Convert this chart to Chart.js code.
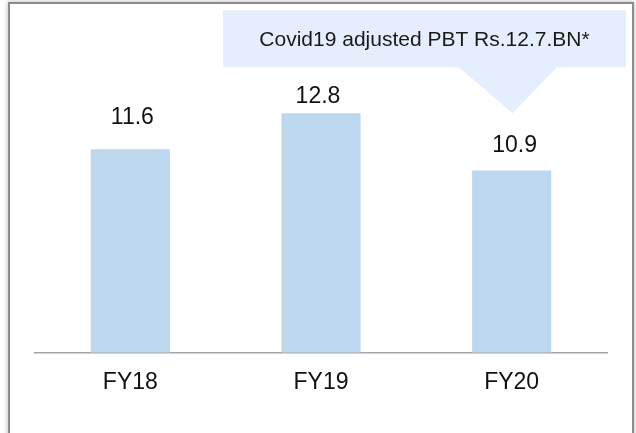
<!DOCTYPE html>
<html>
<head>
<meta charset="utf-8">
<script src="https://cdn.jsdelivr.net/npm/chart.js@4"></script>
<style>
  body { margin: 0; background: #fff; }
  #wrap { position: relative; width: 636px; height: 433px; overflow: hidden; }
  #frame {
    position: absolute; left: 8px; top: 2px; width: 622px; height: 500px;
    border: 2px solid #8c8c8c; box-shadow: 0 0 5px rgba(0,0,0,0.3);
  }
  canvas { position: absolute; left: 0; top: 0; }
</style>
</head>
<body>
<div id="wrap">
  <div id="frame"></div>
  <canvas id="myChart" width="636" height="433"></canvas>
</div>
<script>
const years = ["FY18", "FY19", "FY20"];
const pbt = [11.6, 12.8, 10.9];
const adjustedPbt = 12.7; // covid19 adjusted FY20
const calloutText = "Covid19 adjusted PBT Rs.12.7.BN*";

const font = "'Liberation Sans', Arial, sans-serif";

// value labels above the bars
const valueLabels = {
  id: "valueLabels",
  afterDatasetsDraw(chart, args, opts) {
    const c = chart.ctx;
    const meta = chart.getDatasetMeta(0);
    c.save();
    c.font = "23px " + font;
    c.fillStyle = "#111";
    c.textAlign = "center";
    c.textBaseline = "alphabetic";
    meta.data.forEach(function (bar, i) {
      c.fillText(pbt[i].toFixed(1), bar.x + opts.dx[i], bar.y - opts.offsets[i]);
    });
    c.restore();
  }
};

// callout box pointing at the adjusted value for FY20
const callout = {
  id: "callout",
  afterDraw(chart) {
    const c = chart.ctx;
    const xs = chart.scales.x, ys = chart.scales.y;
    const tipX = xs.getPixelForValue(2) + 1;
    const tipY = ys.getPixelForValue(adjustedPbt) - 3;
    const boxBottom = tipY - 46;
    const boxTop = boxBottom - 57;
    const boxLeft = 223, boxRight = 626;
    c.save();
    c.fillStyle = "#e5eefc";
    c.fillRect(boxLeft, boxTop, boxRight - boxLeft, boxBottom - boxTop);
    c.beginPath();
    c.moveTo(tipX - 55, boxBottom - 1);
    c.lineTo(tipX + 45, boxBottom - 1);
    c.lineTo(tipX, tipY);
    c.closePath();
    c.fill();
    c.font = "21px " + font;
    c.fillStyle = "#1a1a1a";
    c.textAlign = "center";
    c.textBaseline = "middle";
    c.fillText(calloutText, (boxLeft + boxRight) / 2, (boxTop + boxBottom) / 2 + 1);
    c.restore();
  }
};

const ctx = document.getElementById("myChart");
const myChart = new Chart(ctx, {
  type: "bar",
  data: {
    labels: years,
    datasets: [
      {
        label: "PBT",
        data: pbt,
        backgroundColor: "#bdd7ee",
        borderWidth: 0,
        categoryPercentage: 1,
        barPercentage: 0.415,
      },
    ],
  },
  options: {
    responsive: false,
    animation: false,
    layout: { padding: { left: 35, right: 29, top: 10, bottom: 29 } },
    plugins: {
      legend: { display: false },
      tooltip: { enabled: false },
      valueLabels: { offsets: [25, 10, 18], dx: [2, -3, 3] },
    },
    scales: {
      x: {
        grid: { display: false },
        border: { display: true, color: "#a6a6a6", width: 1.5 },
        ticks: { color: "#111", font: { size: 23, family: font }, padding: 8 },
      },
      y: {
        display: false,
        min: 4.84,
        max: 16.24,
      },
    },
  },
  plugins: [valueLabels, callout],
});
</script>
</body>
</html>
